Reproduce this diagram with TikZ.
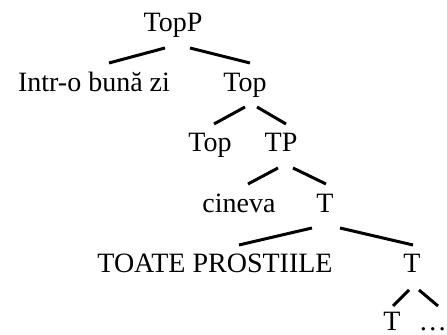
\documentclass[tikz,border=0pt]{standalone}
\usepackage{fontspec}
\setmainfont{Liberation Serif}
\usetikzlibrary{positioning}

\begin{document}
\begin{tikzpicture}[
		x=0.5pt, y=-0.5pt,
		font=\fontsize{14}{16}\selectfont,
		cat/.style={
			anchor=base,
			inner sep=0pt
		},
		branch/.style={
			line width=1.5pt
		}
		]
		\useasboundingbox (0,0) rectangle (447,335);
		% We start by placing the labels
		
		\node [cat] (topp) at (173,32) {TopP};
		\node [cat] (intro) at (94,92) {Intr-o bună zi};
		\node [cat] (top1) at (245,92) {Top};
		\node [cat] (top2) at (210,152) {Top};
		\node [cat] (tp) at (281,152) {TP};
		\node [cat] (cineva) at (239,213) {cineva};
		\node [cat] (t1) at (325,213) {T};
		\node [cat] (toate) at (215,273) {TOATE PROSTIILE};
		\node [cat] (t2) at (412,273) {T};
		\node [cat] (t3) at (392,331) {T};
		\node [cat] (dots) at (433,331) {\dots};
		
		% then the branches
		\draw [branch] ([shift={(-8,16)}]topp.base) -- ([shift={(15,-29)}]intro.base);
		\draw [branch] ([shift={(17,16)}]topp.base) -- ([shift={(5,-29)}]top1.base);
		\draw [branch] ([shift={(0,15)}]top1.base) -- ([shift={(4,-28)}]top2.base);
		\draw [branch] ([shift={(12,15)}]top1.base) -- ([shift={(5,-28)}]tp.base);
		\draw [branch] ([shift={(-3,16)}]tp.base) -- ([shift={(9,-29)}]cineva.base);
		\draw [branch] ([shift={(12,16)}]tp.base) -- ([shift={(1,-29)}]t1.base);
		\draw [branch] ([shift={(-13,15)}]t1.base) -- ([shift={(24,-28)}]toate.base);
		\draw [branch] ([shift={(15,15)}]t1.base) -- ([shift={(1,-28)}]t2.base);
		\draw [branch] ([shift={(-3,17)}]t2.base) -- ([shift={(1,-25)}]t3.base);
		\draw [branch] ([shift={(7,17)}]t2.base) -- ([shift={(5,-25)}]dots.base);
		
\end{tikzpicture}
\end{document}
